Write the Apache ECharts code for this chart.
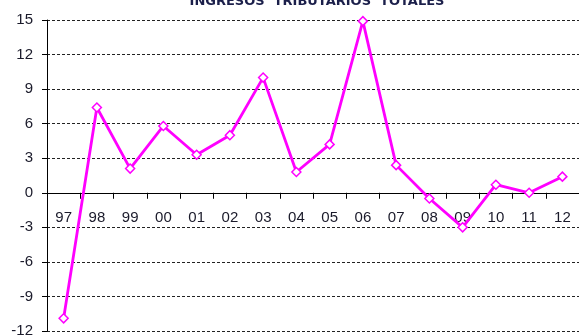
<!DOCTYPE html>
<html>
<head>
<meta charset="utf-8">
<script src="https://cdn.jsdelivr.net/npm/echarts@6/dist/echarts.min.js"></script>
<style>
  html, body { margin: 0; padding: 0; background: #fff; }
  #chart { width: 579px; height: 336px; }
</style>
</head>
<body>
<div id="chart"></div>
<script>
// Annual growth of total tax revenue (%), 1997–2012
const years = ['97', '98', '99', '00', '01', '02', '03', '04', '05', '06', '07', '08', '09', '10', '11', '12'];
const ingresos = [-10.9, 7.4, 2.1, 5.8, 3.3, 5.0, 10.0, 1.8, 4.2, 14.9, 2.4, -0.5, -3.0, 0.7, 0.0, 1.4];
const yTicks = { min: -12, max: 15, step: 3 };
const titleText = 'INGRESOS  TRIBUTARIOS  TOTALES';

const chart = echarts.init(document.getElementById('chart'), null, { renderer: 'canvas' });
const gridBottomPx = 336 - 5;

chart.setOption({
  animation: false,
  backgroundColor: '#ffffff',
  title: {
    text: titleText,
    left: 312,
    textAlign: 'center',
    top: -10,
    textStyle: {
      fontFamily: 'DejaVu Sans',
      fontWeight: 'bold',
      fontSize: 13,
      color: '#1b1f4a'
    }
  },
  grid: {
    left: 47, right: 0, top: 20, bottom: 5,
    containLabel: false,
    outerBoundsMode: 'none'
  },
  xAxis: {
    type: 'category',
    position: 'bottom',
    data: years,
    boundaryGap: true,
    axisLine: { onZero: false, lineStyle: { color: '#000', width: 1 } },
    axisTick: { show: true, length: 6, alignWithLabel: false, lineStyle: { color: '#000' } },
    axisLabel: {
      show: true,
      interval: 0,
      margin: 18,
      fontFamily: 'Liberation Sans',
      fontSize: 15,
      color: '#1a1a2a'
    },
    splitLine: { show: false }
  },
  yAxis: {
    type: 'value',
    min: yTicks.min,
    max: yTicks.max,
    interval: yTicks.step,
    axisLine: { show: true, lineStyle: { color: '#000', width: 1 } },
    axisTick: { show: true, length: 5, lineStyle: { color: '#000' } },
    axisLabel: {
      margin: 14,
      fontFamily: 'Liberation Sans',
      fontSize: 15,
      color: '#1a1a2a'
    },
    splitLine: {
      show: true,
      lineStyle: { color: '#222', width: 1, type: [3, 2] }
    }
  },
  series: [{
    type: 'line',
    data: ingresos,
    symbol: 'diamond',
    symbolSize: 9,
    showAllSymbol: true,
    lineStyle: { color: '#ff00ff', width: 2.8 },
    itemStyle: { color: '#ffffff', borderColor: '#ff00ff', borderWidth: 1.5 },
    z: 5
  }]
});

// Lift the category axis (line, ticks and labels) up to the value-axis zero
const zeroPx = chart.convertToPixel({ yAxisIndex: 0 }, 0);
chart.setOption({ xAxis: { offset: zeroPx - gridBottomPx } });
</script>
</body>
</html>
